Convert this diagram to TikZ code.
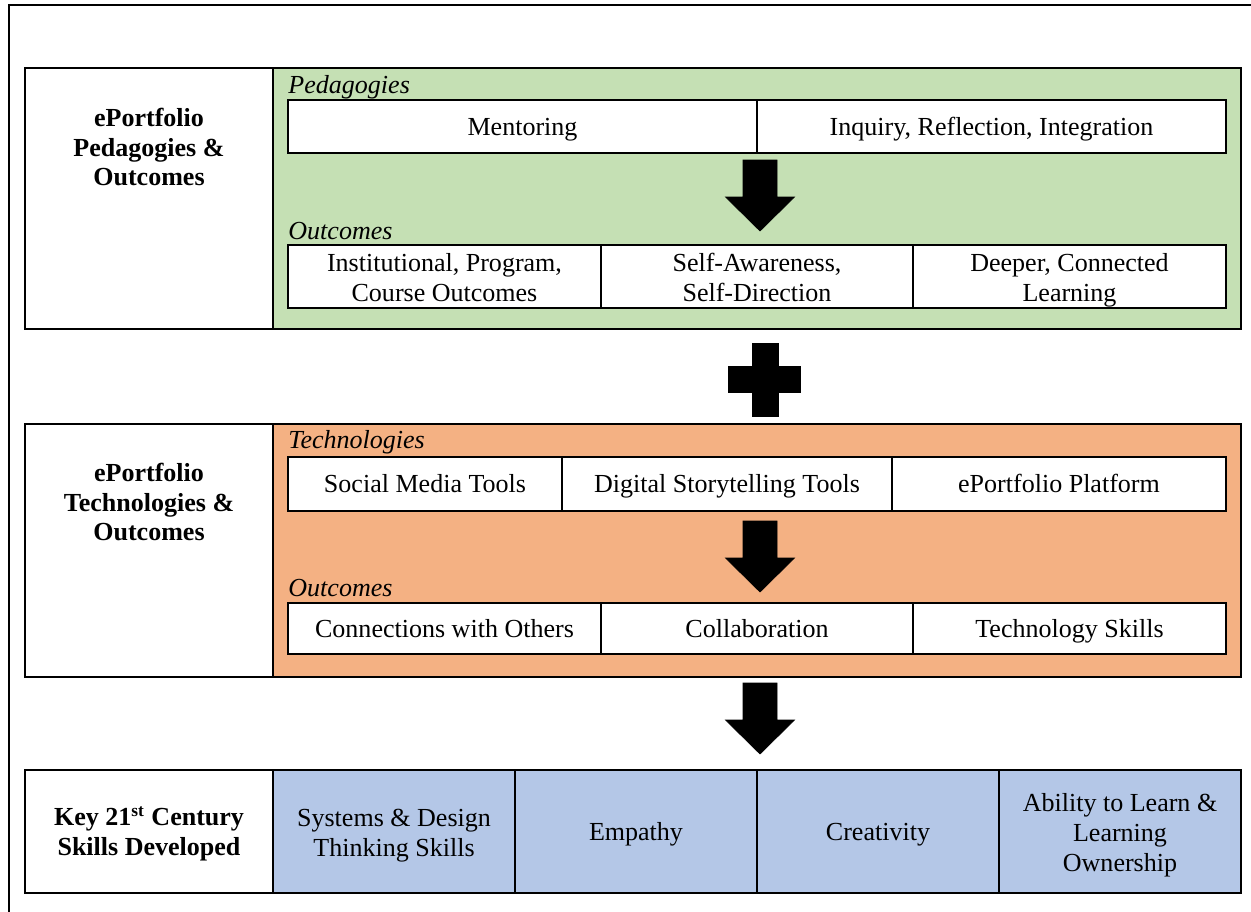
\documentclass[tikz,border=0pt]{standalone}
\usepackage{fontspec}
\setmainfont{Liberation Serif}
\definecolor{pedgreen}{HTML}{C5E0B4}
\definecolor{techorange}{HTML}{F4B183}
\definecolor{skillblue}{HTML}{B4C7E7}
% one unit of the grid, as a length
\newcommand\gridpt{0.46094pt}
% line box of the cell text, so every cell centres the same way
\newcommand\cellstrut{\vrule width 0pt height 10.8pt depth 2.6pt\relax}
% taller first line for the cells set on several lines
\newcommand\topline{\vrule width 0pt height 11.8pt\relax}
\begin{document}
\begin{tikzpicture}[
        x=0.0162cm, y=-0.0162cm,
        every node/.style={font=\fontsize{12}{13.8}\selectfont},
        size/.style 2 args={minimum width=#1*\gridpt, minimum height=#2*\gridpt},
        struts/.style={execute at begin node=\cellstrut, execute at end node=\cellstrut},
        panel/.style={rectangle, draw, line width=1.1pt, inner sep=0pt, align=center, struts},
        cell/.style={rectangle, draw, line width=0.8pt, fill=white, inner sep=0pt, align=center, struts},
        heading/.style={font=\fontsize{12}{13.8}\selectfont\bfseries, align=center, inner sep=0pt},
        sublabel/.style={anchor=base west, inner sep=0pt, font=\fontsize{12}{13.8}\selectfont\itshape},
        downarrow/.pic={\filldraw[line width=0.3pt] (-17,0) -- (17,0) -- (17,37) -- (34.5,37)
            -- (0,71) -- (-34.5,37) -- (-17,37) -- cycle;}
    ]
    \useasboundingbox (0,0) rectangle (1251,911);
    % outer frame, runs off the page on the right and bottom
    \draw[line width=1pt] (9,930) -- (9,5) -- (1270,5);

    % pedagogies panel
    \node[panel, fill=white, size={248}{261}] (pedlabel) at (149,198.5) {};
    \node[panel, fill=pedgreen, size={968}{261}] (pedarea) at (757,198.5) {};
    \node[heading] (pedtitle) at (149,147) {ePortfolio\\Pedagogies \&\\Outcomes};
    \node[sublabel] (pedhead) at (288,93) {Pedagogies};
    \node[cell, size={469}{53}] (mentoring) at (522.5,126.5) {Mentoring};
    \node[cell, size={469}{53}] (inquiry) at (991.5,126.5) {Inquiry, Reflection, Integration};
    \pic at (760,160) {downarrow};
    \node[sublabel] (pedout) at (288,239) {Outcomes};
    \node[cell, size={313}{63}] (institutional) at (444.5,276.5) {\topline Institutional, Program,\\Course Outcomes};
    \node[cell, size={312}{63}] (selfaware) at (757,276.5) {\topline Self-Awareness,\\Self-Direction};
    \node[cell, size={313}{63}] (deeper) at (1069.5,276.5) {\topline Deeper, Connected\\Learning};

    % plus sign between the panels
    \filldraw[line width=0.3pt] (752,343) -- (778,343) -- (778,366) -- (800,366) -- (800,392)
        -- (778,392) -- (778,416) -- (752,416) -- (752,392) -- (728,392) -- (728,366)
        -- (752,366) -- cycle;

    % technologies panel
    \node[panel, fill=white, size={248}{253}] (techlabel) at (149,550.5) {};
    \node[panel, fill=techorange, size={968}{253}] (techarea) at (757,550.5) {};
    \node[heading] (techtitle) at (149,502) {ePortfolio\\Technologies \&\\Outcomes};
    \node[sublabel] (techhead) at (288,448) {Technologies};
    \node[cell, size={274}{54}] (social) at (425,484) {Social Media Tools};
    \node[cell, size={330}{54}] (story) at (727,484) {Digital Storytelling Tools};
    \node[cell, size={334}{54}] (platform) at (1059,484) {ePortfolio Platform};
    \pic at (760,521) {downarrow};
    \node[sublabel] (techout) at (288,596) {Outcomes};
    \node[cell, size={313}{51}] (connections) at (444.5,628.5) {Connections with Others};
    \node[cell, size={312}{51}] (collab) at (757,628.5) {Collaboration};
    \node[cell, size={313}{51}] (techskills) at (1069.5,628.5) {Technology Skills};

    \pic at (760,683) {downarrow};

    % skills row
    \node[panel, fill=white, size={248}{123}] (skilllabel) at (149,831.5) {};
    \node[heading] (skilltitle) at (149,834) {Key 21\textsuperscript{st} Century\\Skills Developed};
    \node[panel, fill=skillblue, size={242}{123}] (systems) at (394,831.5) {\topline Systems \& Design\\Thinking Skills};
    \node[panel, fill=skillblue, size={242}{123}] (empathy) at (636,831.5) {Empathy};
    \node[panel, fill=skillblue, size={242}{123}] (creativity) at (878,831.5) {Creativity};
    \node[panel, fill=skillblue, size={242}{123}] (ownership) at (1120,831.5) {\topline Ability to Learn \&\\Learning\\Ownership};
\end{tikzpicture}
\end{document}
